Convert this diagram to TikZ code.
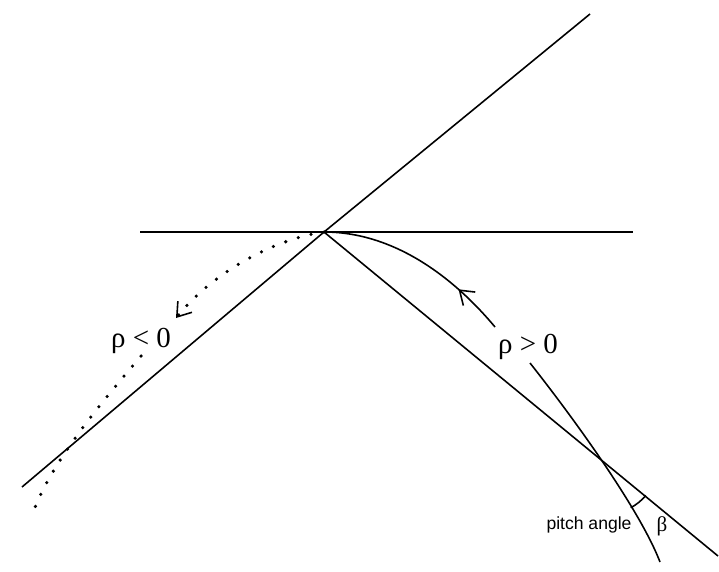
\documentclass[tikz,border=0pt]{standalone}
\usepackage{fontspec}
\setmainfont{Liberation Serif}
\newfontfamily\lblsans{Liberation Sans}
\usepackage{tikz}
\usetikzlibrary{arrows.meta,calc,decorations.markings,angles}
\tikzset{
  axln/.style={line width=0.9pt},
  orbit/.style={line width=0.9pt,
    postaction={decorate},decoration={markings,
      mark=at position 0.74 with {\arrowreversed{Straight Barb[length=2.6mm,width=3.6mm,line width=0.9pt]}}}}, % rho>0 track
  dotorb/.style={line width=2pt,line cap=round,dash pattern=on 0pt off 7.5pt}, % rho<0 track
  dotend/.style={-{Straight Barb[length=2.6mm,width=3.6mm,line width=0.9pt]}},
  rholbl/.style={font=\fontsize{16.5}{18}\selectfont,inner sep=0pt},
}
\begin{document}
\begin{tikzpicture}
  \useasboundingbox (0,0) rectangle (14.38,11.42);
  % crossing point and line ends
  \coordinate (O) at (6.48,6.78);
  \coordinate (hl) at (2.80,6.78);
  \coordinate (hr) at (12.66,6.78);
  \coordinate (la) at (0.44,1.68);
  \coordinate (lb) at (11.80,11.14);
  \coordinate (ma) at (14.36,0.30);
  \draw[axln] (hl) -- (hr);
  \draw[axln] (la) -- (O) -- (lb);
  \draw[axln] (O) -- (ma);
  % positive track, broken at its label
  \coordinate (pa) at (9.90,4.88);
  \coordinate (pb) at (10.60,4.16);
  \coordinate (pe) at (13.20,0.18);
  \coordinate (X) at (12.12,2.18);
  \draw[orbit] (O) .. controls (8.00,6.78) and (9.20,5.72) .. (pa);
  \draw[axln] (pb) .. controls (11.50,3.02) and (12.80,1.22) .. (pe);
  \node[rholbl] (pos) at (10.56,4.48) {ρ > 0};
  % negative track, dotted
  \coordinate (na) at (3.52,5.06);
  \coordinate (nb) at (2.82,4.30);
  \coordinate (ne) at (0.66,1.16);
  \draw[dotorb] (O) .. controls (5.40,6.62) and (4.20,5.92) .. (na);
  \draw[dotend,line width=0.9pt] ($(na)+(0.068,0.086)$) -- (na);
  \draw[dotorb] (nb) .. controls (1.90,3.22) and (1.00,2.12) .. (ne);
  \node[rholbl] (neg) at (2.82,4.60) {ρ < 0};
  % pitch angle
  \pic[draw,line width=0.9pt,angle radius=1.04cm] {angle=pe--X--ma};
  \node[font=\lblsans\fontsize{10}{12}\selectfont,inner sep=0pt] (pitch) at (11.78,0.92) {pitch angle};
  \node[font=\fontsize{12}{14}\selectfont,inner sep=0pt] (beta) at (13.24,0.90) {β};
\end{tikzpicture}
\end{document}
